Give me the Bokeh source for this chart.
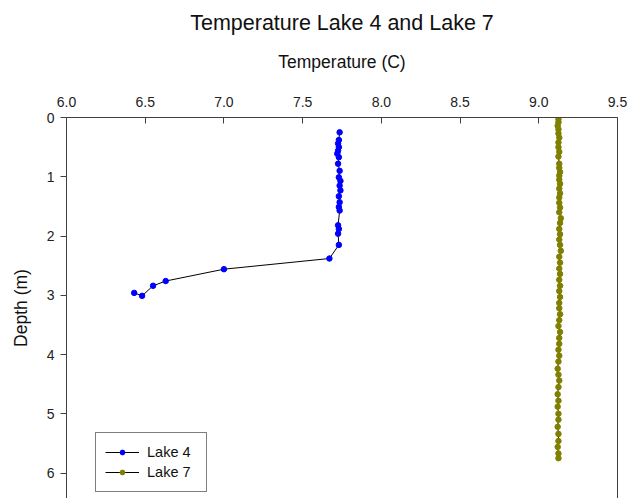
from bokeh.plotting import figure
from bokeh.models import (Range1d, LinearAxis, FixedTicker, Legend, LegendItem,
                          Title)
from bokeh.embed import file_html
from bokeh.resources import INLINE

# ---- data ----
lake4_temp = [7.735, 7.730, 7.725, 7.730, 7.725, 7.720, 7.730, 7.725, 7.735, 7.730,
              7.740, 7.735, 7.740, 7.730, 7.735, 7.730, 7.735, 7.725, 7.730, 7.725,
              7.730, 7.670, 7.000, 6.630, 6.550, 6.480, 6.430]
lake4_depth = [0.25, 0.38, 0.44, 0.50, 0.56, 0.61, 0.67, 0.78, 0.90, 1.01,
               1.07, 1.15, 1.23, 1.33, 1.43, 1.51, 1.57, 1.82, 1.88, 1.96,
               2.15, 2.38, 2.56, 2.76, 2.84, 3.01, 2.96]

lake7_depth = [0.03, 0.08, 0.14, 0.20, 0.27, 0.34, 0.42, 0.50, 0.58, 0.66,
               0.78, 0.85, 0.92, 0.98, 1.05, 1.12, 1.20, 1.28, 1.35, 1.44,
               1.52, 1.60, 1.70, 1.78, 1.88, 1.97, 2.06, 2.15, 2.25, 2.35,
               2.45, 2.55, 2.64, 2.74, 2.84, 2.93, 3.03, 3.13, 3.22, 3.32,
               3.42, 3.52, 3.62, 3.72, 3.82, 3.92, 4.02, 4.12, 4.24, 4.34,
               4.44, 4.55, 4.67, 4.78, 4.88, 5.00, 5.10, 5.22, 5.34, 5.46,
               5.56, 5.67, 5.75]
lake7_temp = [9.125, 9.125, 9.120, 9.125, 9.125, 9.130, 9.125, 9.125, 9.130, 9.125,
              9.130, 9.130, 9.135, 9.130, 9.130, 9.135, 9.130, 9.135, 9.130, 9.130,
              9.135, 9.130, 9.140, 9.135, 9.130, 9.135, 9.130, 9.135, 9.140, 9.130,
              9.135, 9.130, 9.135, 9.130, 9.135, 9.130, 9.135, 9.130, 9.130, 9.135,
              9.130, 9.125, 9.135, 9.130, 9.130, 9.125, 9.130, 9.125, 9.120, 9.125,
              9.130, 9.125, 9.120, 9.125, 9.120, 9.125, 9.125, 9.120, 9.125, 9.125,
              9.120, 9.125, 9.125]

x_ticks = [6.0, 6.5, 7.0, 7.5, 8.0, 8.5, 9.0, 9.5]
x_tick_labels = ["6.0", "6.5", "7.0", "7.5", "8.0", "8.5", "9.0", "9.5"]
y_ticks = [0, 1, 2, 3, 4, 5, 6]

title_text = "Temperature Lake 4 and Lake 7"
x_label = "Temperature (C)"
y_label = "Depth (m)"

FONT = "Liberation Sans"
AXIS_COLOR = "#404040"

p = figure(width=628, height=498, output_backend="svg", toolbar_location=None,
           x_range=Range1d(6.0, 9.5), y_range=Range1d(6.43, 0.0),
           x_axis_location=None, y_axis_location=None,
           min_border_left=66, min_border_right=11, min_border_top=117,
           min_border_bottom=0)
p.grid.visible = False
p.outline_line_color = None
p.background_fill_color = "white"
p.border_fill_color = "white"

# main title (outermost, above)
p.title.text = title_text
p.title.align = "center"
p.title.text_font = FONT
p.title.text_font_size = "21.5px"
p.title.text_font_style = "normal"
p.title.text_color = "#111111"
p.title.standoff = 10

# top axis
top = LinearAxis(ticker=FixedTicker(ticks=x_ticks),
                 major_label_overrides={t: l for t, l in zip(x_ticks, x_tick_labels)})
top.axis_label = x_label
top.axis_label_text_font = FONT
top.axis_label_text_font_size = "17.5px"
top.axis_label_text_font_style = "normal"
top.axis_label_text_color = "#111111"
top.axis_label_standoff = 22
top.major_label_text_font = FONT
top.major_label_text_font_size = "14px"
top.major_label_text_color = "#222222"
top.major_label_standoff = 11
top.major_tick_in = 6
top.major_tick_out = 0
top.minor_tick_line_color = None
top.axis_line_color = AXIS_COLOR
top.major_tick_line_color = AXIS_COLOR
p.add_layout(top, "above")
# spacer between axis label and main title
p.add_layout(Title(text=" ", text_font_size="1px", standoff=6), "above")

# left axis
left = LinearAxis(ticker=FixedTicker(ticks=y_ticks))
left.major_label_text_font = FONT
left.major_label_text_font_size = "14px"
left.major_label_text_color = "#222222"
left.major_label_standoff = 6
left.major_tick_in = 0
left.major_tick_out = 6
left.minor_tick_line_color = None
left.axis_line_color = AXIS_COLOR
left.major_tick_line_color = AXIS_COLOR
p.add_layout(left, "left")
# spacer then y label
p.add_layout(Title(text=" ", text_font_size="1px", standoff=8), "left")
ytitle = Title(text=y_label, align="center", standoff=4,
               text_font=FONT, text_font_size="17.5px", text_font_style="normal",
               text_color="#111111")
p.add_layout(ytitle, "left")

# right border line (no ticks)
right = LinearAxis(ticker=FixedTicker(ticks=[]))
right.major_label_text_font_size = "0px"
right.major_tick_line_color = None
right.minor_tick_line_color = None
right.axis_line_color = AXIS_COLOR
p.add_layout(right, "right")

# series
l4 = p.line(lake4_temp, lake4_depth, line_color="black", line_width=1)
s4 = p.scatter(lake4_temp, lake4_depth, marker="circle", size=5.5,
               fill_color="#0000FF", line_color="#0000FF")
l7 = p.line(lake7_temp, lake7_depth, line_color="black", line_width=1)
s7 = p.scatter(lake7_temp, lake7_depth, marker="circle", size=5.5,
               fill_color="#808000", line_color="#808000")

legend = Legend(items=[LegendItem(label="Lake 4", renderers=[l4, s4]),
                       LegendItem(label="Lake 7", renderers=[l7, s7])],
                location=(29, 6), orientation="vertical")
legend.border_line_color = "black"
legend.border_line_width = 1
legend.background_fill_color = "white"
legend.background_fill_alpha = 1
legend.label_text_font = FONT
legend.label_text_font_size = "14.5px"
legend.label_text_color = "#111111"
legend.glyph_width = 34
legend.glyph_height = 12
legend.label_height = 20
legend.label_width = 50
legend.label_standoff = 8
legend.padding = 9
legend.spacing = 0
legend.margin = 0
p.add_layout(legend, "center")

open("out.html", "w").write(file_html(p, INLINE))
